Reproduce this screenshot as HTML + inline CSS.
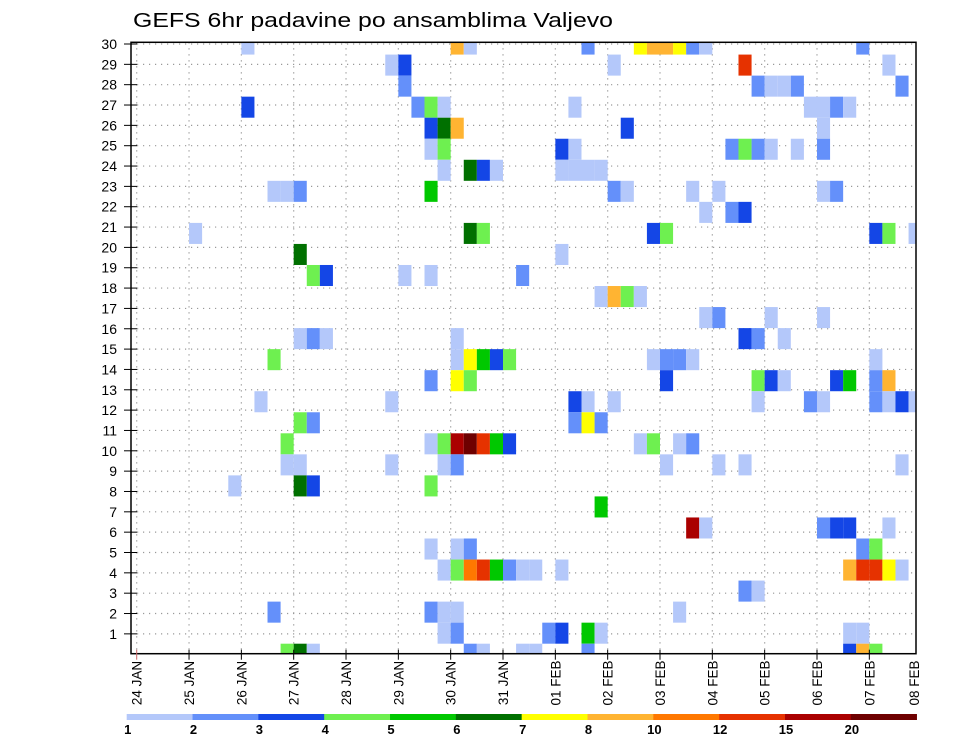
<!DOCTYPE html>
<html><head><meta charset="utf-8"><style>
html,body{margin:0;padding:0;background:#fff}
svg{display:block}
text{font-family:"Liberation Sans",sans-serif;fill:#000}
</style></head><body>
<svg id="chart" width="960" height="742" viewBox="0 0 960 742" xmlns="http://www.w3.org/2000/svg">
<text x="133" y="27" font-size="20" textLength="480" lengthAdjust="spacingAndGlyphs">GEFS 6hr padavine po ansamblima Valjevo</text>
<g id="grid"></g>
<g id="cells"></g>
<rect x="131" y="42.3" width="785" height="611.4" fill="none" stroke="#000" stroke-width="1.5"/>
<g id="axes"></g>
<g id="legend"></g>
</svg>
<script>
// time step (6h column) index, ensemble member row index, precipitation value (mm)
const cellTime = [
 8,24,25,34,38,39,40,41,42,43,55,
 19,20,36,46,57,
 20,47,48,49,50,58,
 8,21,22,23,33,51,52,53,54,
 22,23,24,37,52,
 22,23,32,33,45,46,47,48,50,52,
 23,25,26,27,32,33,34,35,
 10,11,12,22,36,37,42,44,52,53,
 43,45,46,
 4,25,26,39,40,56,57,59,
 12,32,
 13,14,20,22,29,
 35,36,37,38,
 43,44,48,52,
 12,13,14,24,46,47,49,
 10,24,25,26,27,28,39,40,41,42,56,
 22,24,25,40,47,48,49,53,54,56,57,
 9,19,33,34,36,47,51,52,56,57,58,59,
 12,13,33,34,35,
 11,22,23,24,25,26,27,28,38,39,41,42,
 11,12,19,23,24,40,44,46,58,
 7,12,13,22,
 35,
 42,43,52,53,54,57,
 22,24,25,55,56,
 23,24,25,26,27,28,29,30,32,54,55,56,57,58,
 46,47,
 10,22,23,24,41,
 23,24,31,32,34,35,54,55,
 11,12,13,25,26,29,30,34,54,55,56
];
const cellMember = [
 29,29,29,29,29,29,29,29,29,29,29,
 28,28,28,28,28,
 27,27,27,27,27,27,
 26,26,26,26,26,26,26,26,26,
 25,25,25,25,25,
 24,24,24,24,24,24,24,24,24,24,
 23,23,23,23,23,23,23,23,
 22,22,22,22,22,22,22,22,22,22,
 21,21,21,
 20,20,20,20,20,20,20,20,
 19,19,
 18,18,18,18,18,
 17,17,17,17,
 16,16,16,16,
 15,15,15,15,15,15,15,
 14,14,14,14,14,14,14,14,14,14,14,
 13,13,13,13,13,13,13,13,13,13,13,
 12,12,12,12,12,12,12,12,12,12,12,12,
 11,11,11,11,11,
 10,10,10,10,10,10,10,10,10,10,10,10,
 9,9,9,9,9,9,9,9,9,
 8,8,8,8,
 7,
 6,6,6,6,6,6,
 5,5,5,5,5,
 4,4,4,4,4,4,4,4,4,4,4,4,4,4,
 3,3,
 2,2,2,2,2,
 1,1,1,1,1,1,1,1,
 0,0,0,0,0,0,0,0,0,0,0
];
const cellValue = [
 1.5,9,1.5,2.5,7.5,9,9,7.5,2.5,1.5,2.5,
 1.5,3.5,1.5,13,1.5,
 2.5,2.5,1.5,1.5,2.5,2.5,
 3.5,2.5,4.5,1.5,1.5,1.5,1.5,2.5,1.5,
 3.5,6.5,9,3.5,1.5,
 1.5,4.5,3.5,1.5,2.5,4.5,2.5,1.5,1.5,2.5,
 1.5,6.5,3.5,1.5,1.5,1.5,1.5,1.5,
 1.5,1.5,2.5,5.5,2.5,1.5,1.5,1.5,1.5,2.5,
 1.5,2.5,3.5,
 1.5,6.5,4.5,3.5,4.5,3.5,4.5,1.5,
 6.5,1.5,
 4.5,3.5,1.5,1.5,2.5,
 1.5,9,4.5,1.5,
 1.5,2.5,1.5,1.5,
 1.5,2.5,1.5,1.5,3.5,2.5,1.5,
 4.5,1.5,7.5,5.5,3.5,4.5,1.5,2.5,2.5,1.5,1.5,
 2.5,7.5,4.5,3.5,4.5,3.5,1.5,3.5,5.5,2.5,9,
 1.5,1.5,3.5,1.5,1.5,1.5,2.5,1.5,2.5,1.5,3.5,1.5,
 4.5,2.5,2.5,7.5,2.5,
 4.5,1.5,4.5,17,22,13,5.5,3.5,1.5,4.5,1.5,2.5,
 1.5,1.5,1.5,1.5,2.5,1.5,1.5,1.5,1.5,
 1.5,6.5,3.5,4.5,
 5.5,
 17,1.5,2.5,3.5,3.5,1.5,
 1.5,1.5,2.5,2.5,4.5,
 1.5,4.5,11,13,5.5,2.5,1.5,1.5,1.5,9,13,13,7.5,1.5,
 2.5,1.5,
 2.5,2.5,1.5,1.5,1.5,
 1.5,2.5,2.5,3.5,5.5,1.5,1.5,1.5,
 4.5,6.5,1.5,2.5,1.5,1.5,1.5,2.5,3.5,9,4.5
];
const levels = [1,2,3,4,5,6,7,8,10,12,15,20];
const levelColors = ["#b4c8fa","#6490fa","#1446e6","#6ef050","#00c800","#007000","#ffff00","#ffb432","#ff7800","#e63200","#aa0000","#6e0000"];
const dayLabels = ["24 JAN","25 JAN","26 JAN","27 JAN","28 JAN","29 JAN","30 JAN","31 JAN","01 FEB","02 FEB","03 FEB","04 FEB","05 FEB","06 FEB","07 FEB","08 FEB"];
const yTicks = [1,2,3,4,5,6,7,8,9,10,11,12,13,14,15,16,17,18,19,20,21,22,23,24,25,26,27,28,29,30];

const NS = "http://www.w3.org/2000/svg";
const X0 = 136.7, DAY = 52.33, STEP = DAY/4;
const PL = 131, PR = 916, PT = 42.3, PB = 653.7;
const CELLH = 21.04;
function xTime(t){ return X0 + t*STEP; }
function yMemberTop(m){ return PB - 10 - m*CELLH; }
function yTick(v){ return 44 + (30 - v)*20.34; }
function colorFor(v){ let c = null; for(let i=0;i<levels.length;i++){ if(v>=levels[i]) c = levelColors[i]; } return c; }
function mk(tag, attrs, parent){ const e=document.createElementNS(NS,tag); for(const k in attrs) e.setAttribute(k, attrs[k]); parent.appendChild(e); return e; }

const grid = document.getElementById('grid');
yTicks.forEach(v=>{
  const y = yTick(v);
  const l = mk('line',{x1:PL,x2:PR,y1:y,y2:y,stroke:'#999','stroke-width':1.2,'stroke-dasharray':'1.2 4.8'},grid);
  
  
});
dayLabels.forEach((d,i)=>{
  const x = X0 + i*DAY;
  if (x > PR) return;
  const l = mk('line',{x1:x,x2:x,y1:PT,y2:PB,stroke:'#999','stroke-width':1.2,'stroke-dasharray':'1.2 4.8'},grid);
  
  
});

const cells = document.getElementById('cells');
for (let i=0;i<cellTime.length;i++){
  const x = xTime(cellTime[i]);
  let y = yMemberTop(cellMember[i]);
  let h = CELLH;
  if (y < PT){ h -= (PT - y); y = PT; }
  if (y + h > PB){ h = PB - y; }
  let w = STEP;
  if (x + w > PR) w = PR - x;
  const c = colorFor(cellValue[i]);
  if (!c) continue;
  const r = mk('rect',{x:x.toFixed(2),y:y.toFixed(2),width:w.toFixed(2),height:h.toFixed(2),fill:c},cells);
  
  
}

const axes = document.getElementById('axes');
yTicks.forEach(v=>{
  const y = yTick(v);
  mk('line',{x1:124,x2:137,y1:y,y2:y,stroke:'#000','stroke-width':1},axes);
  const t = mk('text',{x:117,y:y+5,'font-size':14,'text-anchor':'end'},axes);
  t.textContent = v;
  
  
});
dayLabels.forEach((d,i)=>{
  let x = X0 + i*DAY;
  if (x <= PR){ mk('line',{x1:x,x2:x,y1:PB-4,y2:PB+6,stroke: i===0?'#c66':'#000','stroke-width':1},axes); }
  if (x > PR) x = 914;
  const t = mk('text',{x:0,y:0,'font-size':13.5,'text-anchor':'middle',transform:`translate(${x+5},683) rotate(-90)`},axes);
  t.textContent = d;
  
  
});

const legend = document.getElementById('legend');
const LX = 126.7, LW = 65.83;
levelColors.forEach((c,i)=>{
  const r = mk('rect',{x:LX+i*LW,y:714,width:LW+0.3,height:6,fill:c},legend);
  
  
  const t = mk('text',{x:LX+i*LW+1,y:734,'font-size':13,'font-weight':'bold','text-anchor':'middle'},legend);
  t.textContent = levels[i];
  
  
});
</script>
</body></html>
